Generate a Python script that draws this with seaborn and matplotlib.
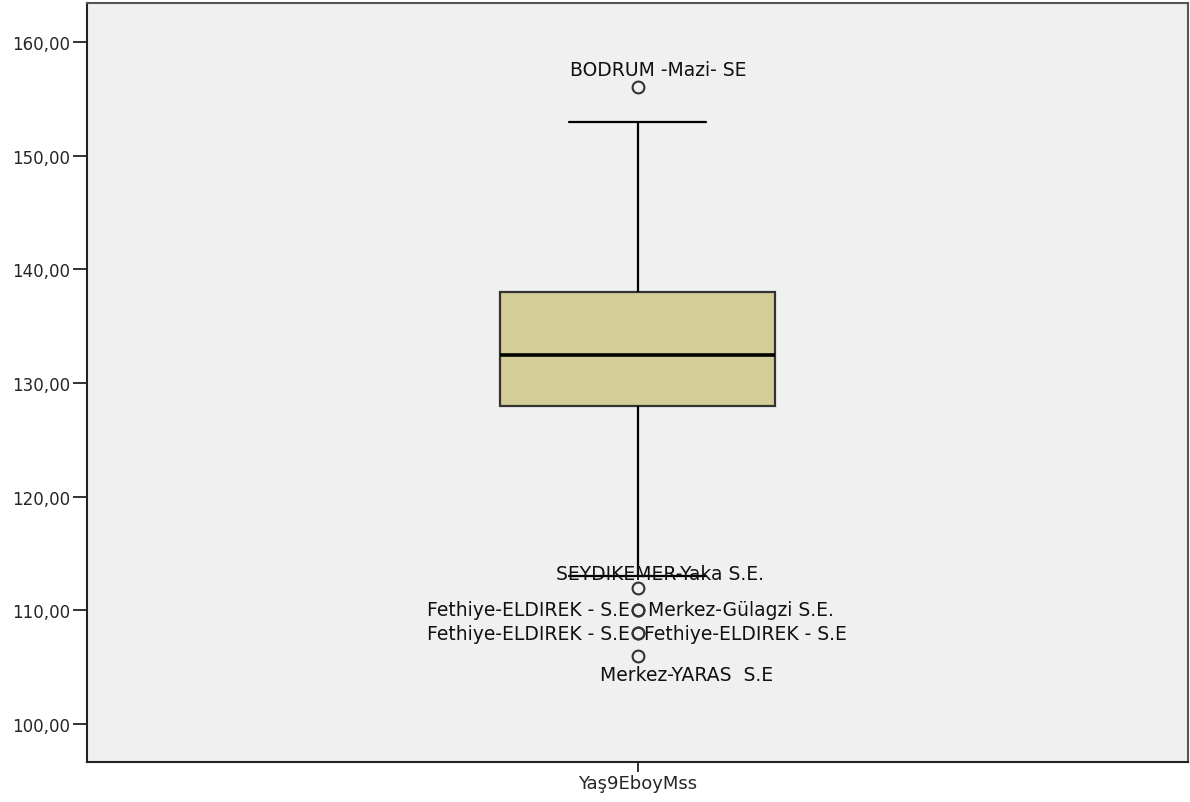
import numpy as np
import pandas as pd
import matplotlib
matplotlib.use("Agg")
import matplotlib.pyplot as plt
import seaborn as sns

# ---- data ----
variable = "Yaş9EboyMss"
q1, median, q3 = 128.0, 132.5, 138.0
whisker_low, whisker_high = 113.0, 153.0
outlier_values = [156.0, 112.0, 110.0, 110.0, 108.0, 108.0, 106.0]
outlier_labels = ["BODRUM -Mazi- SE", "SEYDIKEMER-Yaka S.E.",
                  "Fethiye-ELDIREK - S.E", "Merkez-Gülagzi S.E.",
                  "Fethiye-ELDIREK - S.E", "Fethiye-ELDIREK - S.E",
                  "Merkez-YARAS  S.E"]
ytick_values = [100, 110, 120, 130, 140, 150, 160]

# Build a sample that reproduces the box statistics (n = 33, quartiles at idx 8/16/24)
low_out = sorted([v for v in outlier_values if v < q1])
high_out = [v for v in outlier_values if v > q3]
values = (low_out + [whisker_low] + [q1] * 9 + [median] + [q3] * 14
          + [whisker_high] + high_out)
df = pd.DataFrame({"var": [variable] * len(values), "value": values})

sns.set_style("white")
plt.rcParams["font.family"] = ["DejaVu Sans"]

fig = plt.figure(figsize=(11.9, 8.03), dpi=100)
ax = fig.add_axes([87 / 1190, 1 - 763 / 803, (1188 - 87) / 1190, (763 - 4) / 803])
ax.set_facecolor("#F0F0F0")

sns.boxplot(data=df, x="var", y="value", ax=ax, width=0.25, whis=1.5,
            color="#D3CE97", saturation=1, linecolor="#000000", linewidth=1.6,
            medianprops=dict(linewidth=2.6, color="black"),
            boxprops=dict(edgecolor="#333333", linewidth=1.6),
            flierprops=dict(marker="o", markersize=8.5, markerfacecolor="none",
                            markeredgecolor="#333333", markeredgewidth=1.5))

ax.set_xlim(-0.5, 0.5)
ax.set_ylim(96.67, 163.43)
ax.set_yticks(ytick_values)
ax.set_yticklabels([f"{v:.2f}".replace(".", ",") for v in ytick_values])
ax.set_xlabel("")
ax.set_ylabel("")
ax.tick_params(axis="y", direction="out", length=10, width=1.3, color="#222222",
               labelsize=12, pad=2, left=True)
ax.tick_params(axis="x", direction="out", length=7, width=1.3, color="#222222",
               labelsize=13, pad=2, bottom=True)
for s in ["left", "bottom"]:
    ax.spines[s].set_color("#222222")
    ax.spines[s].set_linewidth(1.5)
for s in ["top", "right"]:
    ax.spines[s].set_color("#555555")
    ax.spines[s].set_linewidth(1.5)

# label offsets (pixels) relative to each outlier point
offsets = [(21, 18, "center"), (22, 14, "center"), (-8, 1, "right"),
           (10, 1, "left"), (-8, 0, "right"), (7, 0, "left"), (49, -19, "center")]
for val, lab, (dx, dy, ha) in zip(outlier_values, outlier_labels, offsets):
    ax.annotate(lab, xy=(0, val), xytext=(dx, dy), textcoords="offset pixels",
                ha=ha, va="center", fontsize=13.5, color="#111111")

fig.savefig("out.png", dpi=100)
